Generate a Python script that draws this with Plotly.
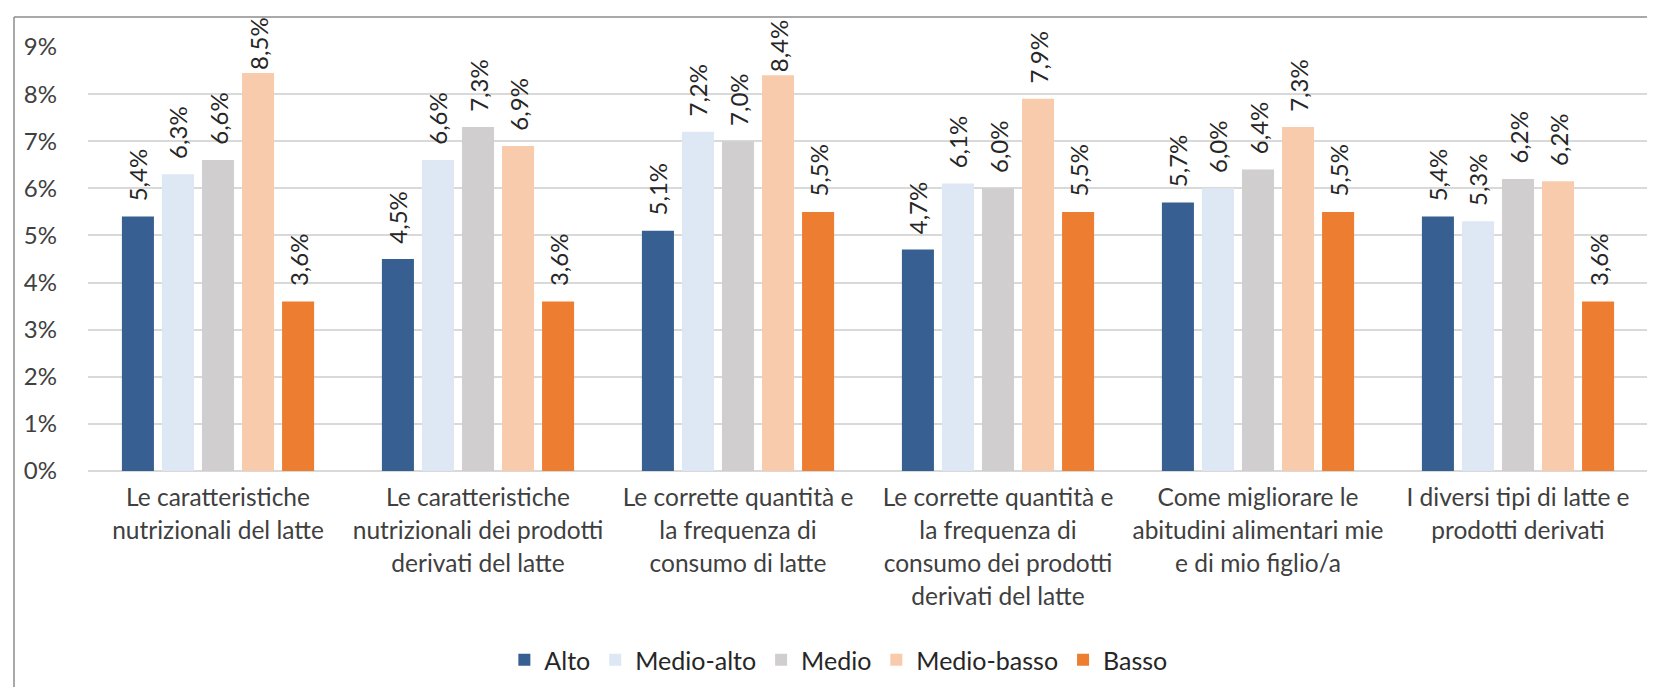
import plotly.graph_objects as go

categories = [
    "Le caratteristiche<br>nutrizionali del latte",
    "Le caratteristiche<br>nutrizionali dei prodotti<br>derivati del latte",
    "Le corrette quantità e<br>la frequenza di<br>consumo di latte",
    "Le corrette quantità e<br>la frequenza di<br>consumo dei prodotti<br>derivati del latte",
    "Come migliorare le<br>abitudini alimentari mie<br>e di mio figlio/a",
    "I diversi tipi di latte e<br>prodotti derivati",
]
series_names = ["Alto", "Medio-alto", "Medio", "Medio-basso", "Basso"]
alto = [5.4, 4.5, 5.1, 4.7, 5.7, 5.4]
medio_alto = [6.3, 6.6, 7.2, 6.1, 6.0, 5.3]
medio = [6.6, 7.3, 7.0, 6.0, 6.4, 6.2]
medio_basso = [8.45, 6.9, 8.4, 7.9, 7.3, 6.15]
basso = [3.6, 3.6, 5.5, 5.5, 5.5, 3.6]
colors = ["#375F91", "#DDE8F4", "#D0CECE", "#F8CBAD", "#ED7D31"]
y_ticks = list(range(0, 10))

FONT = "Lato"
TXT = "#404040"

def fmt(v):
    # labels near the top of the chart sit closer to their bar (as in the original)
    pad = "" if v >= 8 else "\u00a0\u00a0"
    return pad + f"{round(v + 1e-9, 1):.1f}%".replace(".", ",")

fig = go.Figure()
for name, vals, col in zip(series_names, [alto, medio_alto, medio, medio_basso, basso], colors):
    fig.add_trace(go.Bar(
        name=name, x=categories, y=vals, marker=dict(color=col, line=dict(width=0)),
        text=[fmt(v) for v in vals],
        textposition="outside", textangle=-90, constraintext="none", cliponaxis=False,
        textfont=dict(family=FONT, size=24, color="#262626"),
    ))

tick_text = ["<span style='font-size:24.5px'>" + c.replace("<br>", "</span><br><span style='font-size:24.5px'>") + "</span>" for c in categories]

fig.update_layout(
    width=1655, height=687,
    paper_bgcolor="white", plot_bgcolor="white",
    margin=dict(l=80, r=15, t=39, b=224),
    barmode="group", bargap=0.23, bargroupgap=0.2,
    showlegend=True,
    legend=dict(orientation="h", x=0.481, xanchor="center", y=-0.446, yanchor="middle",
                font=dict(family=FONT, size=25, color="#262626"), itemwidth=30),
    xaxis=dict(tickmode="array", tickvals=categories, ticktext=tick_text,
               tickfont=dict(family=FONT, size=25.5, color=TXT), showgrid=False,
               tickangle=0, ticks="", showline=False, ticklabelstandoff=8),
    yaxis=dict(range=[0, 9], tickvals=y_ticks, ticktext=[f"{t}%" for t in y_ticks],
               tickfont=dict(family=FONT, size=24, color=TXT), gridcolor="#D9D9D9",
               gridwidth=2, zeroline=True, zerolinecolor="#D9D9D9", zerolinewidth=2,
               ticklabelstandoff=30, showline=False),
    font=dict(family=FONT, color=TXT),
)

# chart frame (left and top edges)
fig.add_shape(type="line", xref="paper", yref="paper", x0=(6 - 80) / 1560, x1=(6 - 80) / 1560,
              y0=(463 - 9) / 424, y1=(463 - 690) / 424, line=dict(color="#8C8C8C", width=1.5))
fig.add_shape(type="line", xref="paper", yref="paper", x0=(6 - 80) / 1560, x1=(1660 - 80) / 1560,
              y0=(463 - 9) / 424, y1=(463 - 9) / 424, line=dict(color="#8C8C8C", width=1.5))

fig.write_html("out.html")
